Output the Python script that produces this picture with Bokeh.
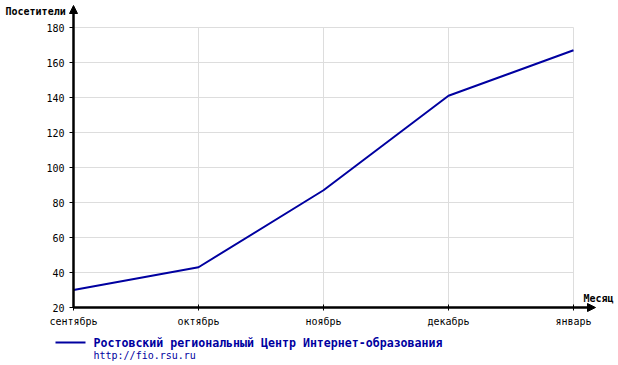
from bokeh.plotting import figure
from bokeh.models import Range1d, Arrow, NormalHead
from bokeh.core.properties import value
from bokeh.embed import file_html
from bokeh.resources import INLINE

months = ["сентябрь", "октябрь", "ноябрь", "декабрь", "январь"]
visitors = [30, 43, 87, 141, 167]
y_ticks = [20, 40, 60, 80, 100, 120, 140, 160, 180]
series_name = "Ростовский региональный Центр Интернет-образования"
series_url = "http://fio.rsu.ru"
y_title = "Посетители"
x_title = "Месяц"

xs = list(range(len(months)))
MONO = "DejaVu Sans Mono"
BLUE = "#0000a0"
GRID = "#dddddd"

W, H = 618, 365
LEFT, BOTTOM = 73, 58           # pixel position of the axes origin
XSTEP = 125.0                   # pixels per category
YSCALE = 1.75                   # pixels per visitor
y0 = y_ticks[0]

p = figure(width=W, height=H, output_backend="svg", toolbar_location=None,
           x_axis_location=None, y_axis_location=None,
           x_range=Range1d(-LEFT / XSTEP, (W - LEFT) / XSTEP),
           y_range=Range1d(y0 - BOTTOM / YSCALE, y0 + (H - BOTTOM) / YSCALE),
           min_border=0, min_border_left=0, min_border_right=0,
           min_border_top=0, min_border_bottom=0)
p.outline_line_color = None
p.xgrid.visible = False
p.ygrid.visible = False
p.background_fill_color = "white"
p.border_fill_color = "white"

x_end = xs[-1]
y_end = y_ticks[-1]

# grid lines
p.segment(x0=[0] * len(y_ticks), y0=y_ticks, x1=[x_end] * len(y_ticks), y1=y_ticks,
          line_color=GRID, line_width=1)
p.segment(x0=xs, y0=[y0] * len(xs), x1=xs, y1=[y_end] * len(xs),
          line_color=GRID, line_width=1)

# data line
p.line(xs, visitors, line_color=BLUE, line_width=2)

# axes with arrows
head = dict(size=8, fill_color="black", line_color="black", line_width=1)
p.add_layout(Arrow(x_start=0, y_start=y0, x_end=0, y_end=y0 + 302 / YSCALE,
                   line_width=2.5, line_color="black", end=NormalHead(**head)))
p.add_layout(Arrow(x_start=0, y_start=y0, x_end=522 / XSTEP, y_end=y0,
                   line_width=2.5, line_color="black", end=NormalHead(**head)))

# tick marks
p.segment(x0=[0] * len(y_ticks), y0=y_ticks, x1=[-4 / XSTEP] * len(y_ticks), y1=y_ticks,
          line_color="black", line_width=1)
p.segment(x0=xs, y0=[y0 - 3 / YSCALE] * len(xs), x1=xs, y1=[y0 + 3 / YSCALE] * len(xs),
          line_color="black", line_width=1)

# tick labels
p.text(x=[-9 / XSTEP] * len(y_ticks), y=y_ticks, text=[str(t) for t in y_ticks],
       text_font=value(MONO), text_font_size="10px", text_color="black",
       text_align="right", text_baseline="middle")
p.text(x=xs, y=[y0 - 14 / YSCALE] * len(xs), text=months,
       text_font=value(MONO), text_font_size="10px", text_color="black",
       text_align="center", text_baseline="middle")

# axis titles
p.text(x=[-68 / XSTEP], y=[y0 + 296 / YSCALE], text=[y_title],
       text_font=value(MONO), text_font_size="10px", text_font_style="bold",
       text_color="black", text_align="left", text_baseline="middle")
p.text(x=[510 / XSTEP], y=[y0 + 9 / YSCALE], text=[x_title],
       text_font=value(MONO), text_font_size="10px", text_font_style="bold",
       text_color="black", text_align="left", text_baseline="middle")

# legend
p.segment(x0=[-18 / XSTEP], y0=[y0 - 35 / YSCALE], x1=[12 / XSTEP], y1=[y0 - 35 / YSCALE],
          line_color=BLUE, line_width=2)
p.text(x=[20 / XSTEP], y=[y0 - 35 / YSCALE], text=[series_name],
       text_font=value(MONO), text_font_size="11.6px", text_font_style="bold",
       text_color=BLUE, text_align="left", text_baseline="middle")
p.text(x=[20 / XSTEP], y=[y0 - 48 / YSCALE], text=[series_url],
       text_font=value(MONO), text_font_size="10px",
       text_color=BLUE, text_align="left", text_baseline="middle")

open("out.html", "w").write(file_html(p, INLINE))
